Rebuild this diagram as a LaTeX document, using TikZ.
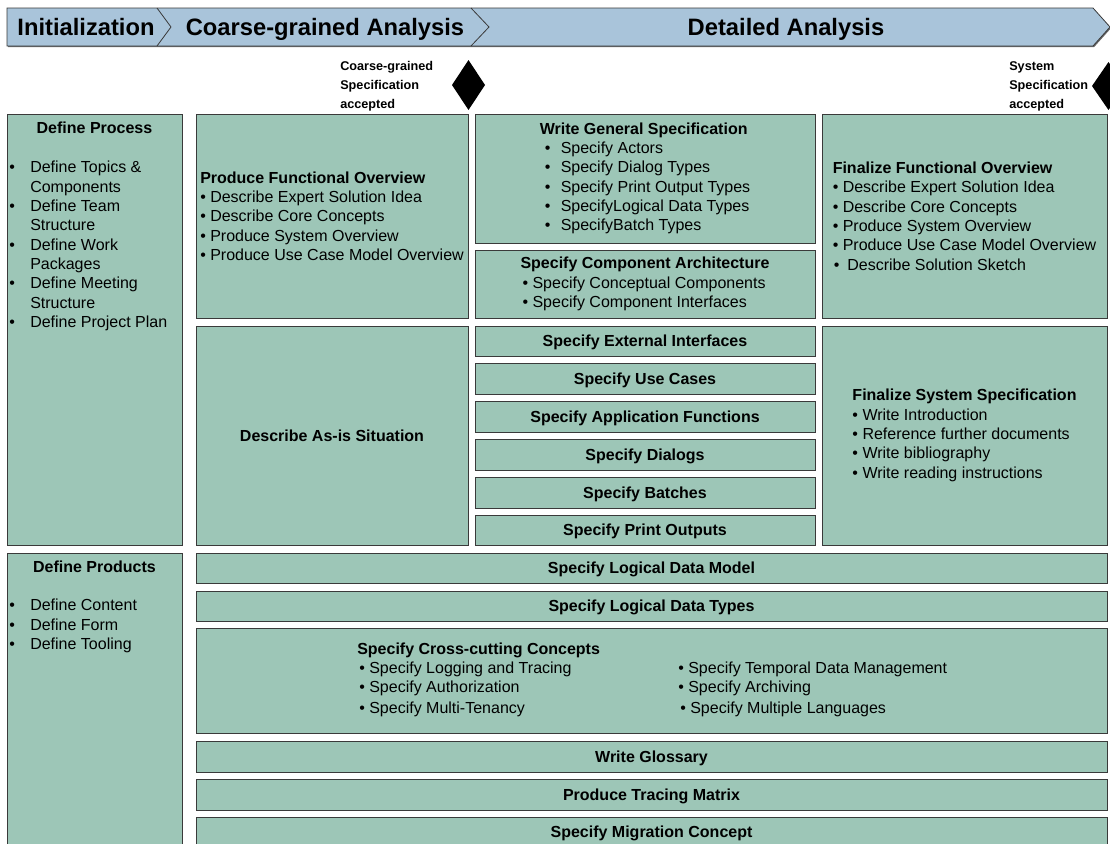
\documentclass[tikz,border=0pt]{standalone}
\usepackage{fontspec}
\setmainfont{Liberation Sans}
\usetikzlibrary{shadows}

% one unit = one pixel of the 1110 x 843 layout
\newlength\px
\setlength\px{0.75pt}

\definecolor{taskfill}{HTML}{9DC6B7}
\definecolor{phasefill}{HTML}{A9C4DA}
\definecolor{rim}{HTML}{3A3A3A}

% \taskbox{name}{x1}{y1}{x2}{y2}: an activity box between two corners
\newcommand\taskbox[5]{%
  \node[task, minimum width={(#4-#2)*0.75pt}, minimum height={(#5-#3)*0.75pt}]
    (#1) at ({(#2+#4)/2},{(#3+#5)/2}) {};}

\begin{document}
\begin{tikzpicture}[x=0.75pt,y=-0.75pt,
  task/.style={draw=rim, line width=0.75pt, fill=taskfill, inner sep=0pt, outer sep=0pt,
    drop shadow={shadow xshift=0.75pt, shadow yshift=-0.75pt, fill=black!60, opacity=1}},
  body/.style={font=\fontsize{12}{14.5}\selectfont, align=left, inner sep=0pt},
  head/.style={font=\fontsize{12}{14.5}\selectfont\bfseries, inner sep=0pt,
    text height=8.5pt, text depth=0pt},
  phase/.style={font=\fontsize{17.8}{21}\selectfont\bfseries, inner sep=0pt, anchor=base},
  mile/.style={font=\fontsize{9.5}{14.25}\selectfont\bfseries, align=left, inner sep=0pt,
    anchor=north west},
  gate/.style={fill=black},
  divider/.style={draw=rim, line width=0.6pt},
]
\useasboundingbox (0,0) rectangle (1110,843);

% ---------- phase bar ----------
\draw[divider, fill=phasefill,
  drop shadow={shadow xshift=0.75pt, shadow yshift=-0.9pt, fill=black!60, opacity=1}]
  (7,8) -- (1093,8) -- (1110,27) -- (1093,46) -- (7,46) -- cycle;
\draw[divider] (157,8) -- (171,27) -- (157,46);
\draw[divider] (471,8) -- (489,27) -- (471,46);
\node[phase] (ph1) at (86,35.3) {Initialization};
\node[phase] (ph2) at (325,35.3) {Coarse-grained Analysis};
\node[phase] (ph3) at (786,35.3) {Detailed Analysis};

% ---------- milestones ----------
\node[mile] (m1) at (340,61) {Coarse-grained\\Specification\\accepted};
\path[gate] (468.5,60) -- (485,85) -- (468.5,110) -- (452,85) -- cycle;
\node[mile] (m2) at (1009,61) {System\\Specification\\accepted};
\path[gate] (1108.5,62) -- (1125,86) -- (1108.5,110) -- (1092,86) -- cycle;

% ---------- activity boxes ----------
\taskbox{dproc}{7}{114}{182}{545}
\taskbox{pfo}{196}{114}{468}{318}
\taskbox{wgs}{475}{114}{815}{243}
\taskbox{sca}{475}{250}{815}{318}
\taskbox{ffo}{822}{114}{1107}{318}
\taskbox{asis}{196}{326}{468}{545}
\taskbox{sei}{475}{326}{815}{356}
\taskbox{suc}{475}{363}{815}{394}
\taskbox{saf}{475}{401}{815}{432}
\taskbox{sdl}{475}{439}{815}{470}
\taskbox{sba}{475}{477}{815}{508}
\taskbox{spo}{475}{515}{815}{545}
\taskbox{fss}{822}{326}{1107}{545}
\taskbox{dprod}{7}{553}{182}{860}
\taskbox{sldm}{196}{553}{1107}{583}
\taskbox{sldt}{196}{591}{1107}{621}
\taskbox{scc}{196}{628}{1107}{733}
\taskbox{wgl}{196}{741}{1107}{772}
\taskbox{ptm}{196}{779}{1107}{810}
\taskbox{smc}{196}{817}{1107}{860}

% ---------- left column ----------
\node[head] (dproc-h) at (94.5,128) {Define Process};
\node[body, anchor=north west] (dproc-l) at (9,161) {%
  \makebox[21\px][l]{•}Define Topics \&\\
  \hspace*{21\px}Components\\
  \makebox[21\px][l]{•}Define Team\\
  \hspace*{21\px}Structure\\
  \makebox[21\px][l]{•}Define Work\\
  \hspace*{21\px}Packages\\
  \makebox[21\px][l]{•}Define Meeting\\
  \hspace*{21\px}Structure\\
  \makebox[21\px][l]{•}Define Project Plan};

\node[head] (dprod-h) at (94.5,567) {Define Products};
\node[body, anchor=north west] (dprod-l) at (9,599) {%
  \makebox[21\px][l]{•}Define Content\\
  \makebox[21\px][l]{•}Define Form\\
  \makebox[21\px][l]{•}Define Tooling};

% ---------- coarse-grained and detailed analysis ----------
\node[body] (pfo-t) at (pfo) {\textbf{Produce Functional Overview}\\
  • Describe Expert Solution Idea\\
  • Describe Core Concepts\\
  • Produce System Overview\\
  • Produce Use Case Model Overview};

\node[body] (wgs-t) at (wgs) {\textbf{Write General Specification}\\
  \hspace*{5\px}\makebox[16\px][l]{•}Specify Actors\\
  \hspace*{5\px}\makebox[16\px][l]{•}Specify Dialog Types\\
  \hspace*{5\px}\makebox[16\px][l]{•}Specify Print Output Types\\
  \hspace*{5\px}\makebox[16\px][l]{•}SpecifyLogical Data Types\\
  \hspace*{5\px}\makebox[16\px][l]{•}SpecifyBatch Types};

\node[body] (sca-t) at (sca) {\textbf{Specify Component Architecture}\\
  \hspace*{2\px}• Specify Conceptual Components\\
  \hspace*{2\px}• Specify Component Interfaces};

\node[body] (ffo-t) at (ffo) {\textbf{Finalize Functional Overview}\\
  • Describe Expert Solution Idea\\
  • Describe Core Concepts\\
  • Produce System Overview\\
  • Produce Use Case Model Overview\\
  \hspace*{1\px}•\hspace{8\px}Describe Solution Sketch};

\node[head] (asis-t) at (asis) {Describe As-is Situation};
\node[head] (sei-t) at (sei) {Specify External Interfaces};
\node[head] (suc-t) at (suc) {Specify Use Cases};
\node[head] (saf-t) at (saf) {Specify Application Functions};
\node[head] (sdl-t) at (sdl) {Specify Dialogs};
\node[head] (sba-t) at (sba) {Specify Batches};
\node[head] (spo-t) at (spo) {Specify Print Outputs};

\node[body] (fss-t) at (fss) {\textbf{Finalize System Specification}\\
  • Write Introduction\\
  • Reference further documents\\
  • Write bibliography\\
  • Write reading instructions};

% ---------- cross-phase activities ----------
\node[head] (sldm-t) at (sldm) {Specify Logical Data Model};
\node[head] (sldt-t) at (sldt) {Specify Logical Data Types};
\node[body, anchor=west] (scc-t) at (357,681) {\textbf{Specify Cross-cutting Concepts}\\
  \begin{tabular}[t]{@{}p{321\px}@{}l@{}}
  \hspace*{2\px}• Specify Logging and Tracing & • Specify Temporal Data Management\\
  \hspace*{2\px}• Specify Authorization & • Specify Archiving\\[1.5\px]
  \hspace*{2\px}• Specify Multi-Tenancy & \hspace*{2\px}• Specify Multiple Languages
  \end{tabular}};
\node[head] (wgl-t) at (wgl) {Write Glossary};
\node[head] (ptm-t) at (ptm) {Produce Tracing Matrix};
\node[head] (smc-t) at (651.5,832) {Specify Migration Concept};
\end{tikzpicture}
\end{document}
